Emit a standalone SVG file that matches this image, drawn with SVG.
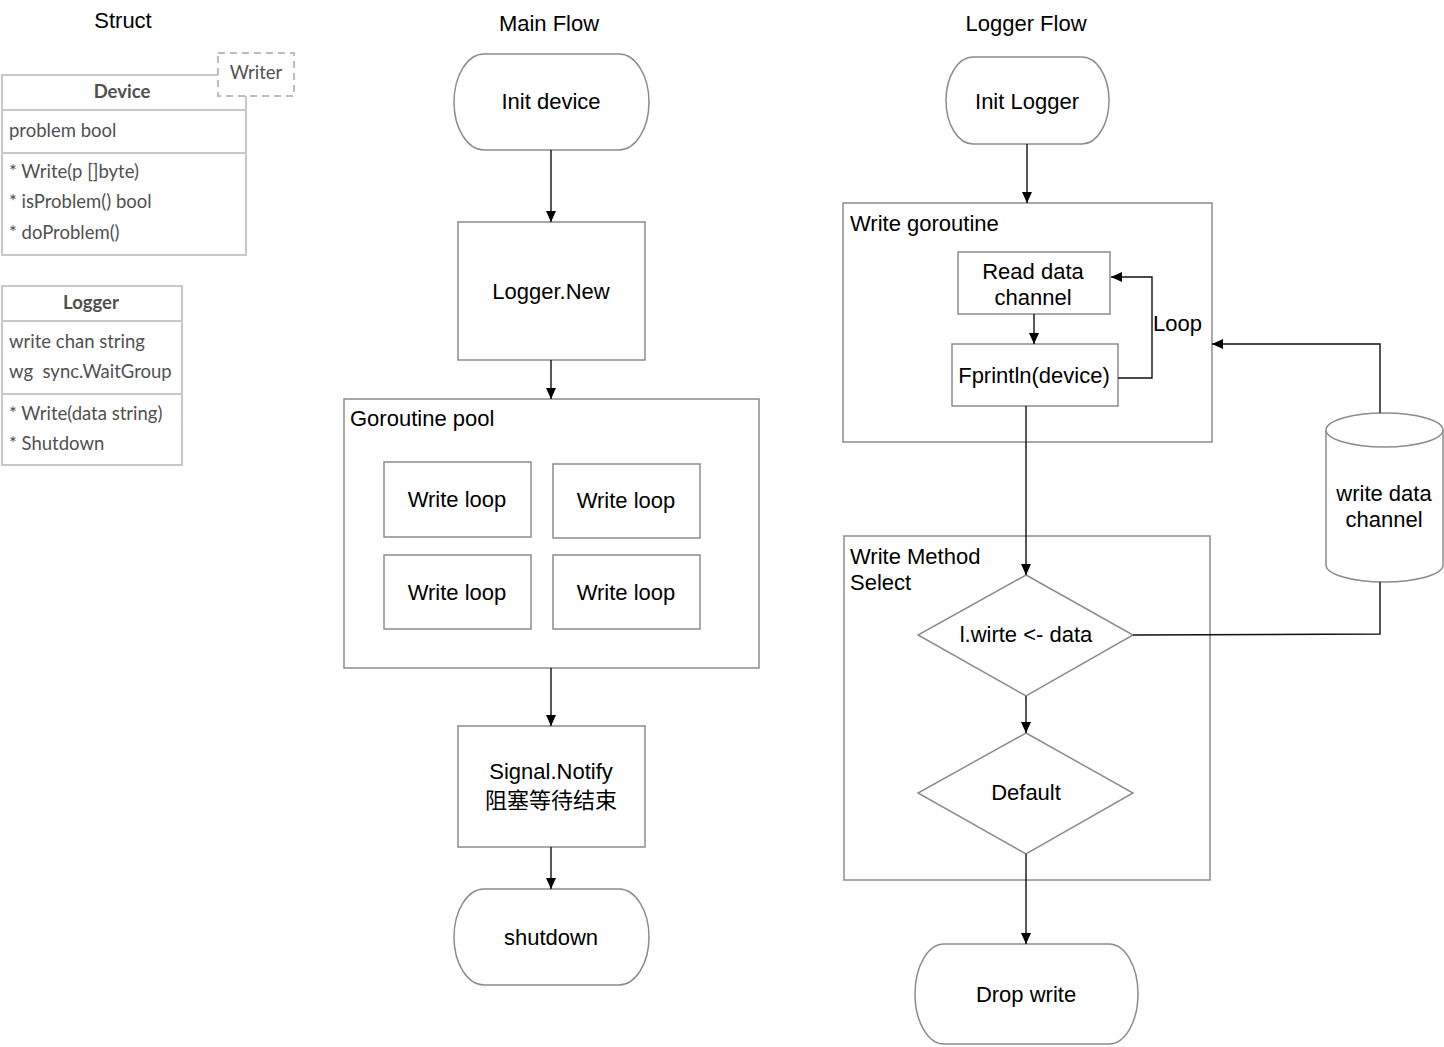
<svg xmlns="http://www.w3.org/2000/svg" width="1444" height="1047" viewBox="0 0 1444 1047">
  <defs>
    <marker id="arrow" markerWidth="12" markerHeight="12" refX="11" refY="5" orient="auto" markerUnits="userSpaceOnUse">
      <path d="M0,0 L11,5 L0,10 z" fill="#000"/>
    </marker>
    <style>
      .shape { fill: #fff; stroke: #8c8c8c; stroke-width: 1.5; }
      .uml { fill: #fff; stroke: #c8c8c8; stroke-width: 2; }
      .dash { fill: #fff; stroke: #bdbdbd; stroke-width: 2; stroke-dasharray: 7 5; }
      .wire { fill: none; stroke: #111; stroke-width: 1.4; }
      .txt { font-family: "Liberation Sans", Arial, "Noto Sans CJK SC", sans-serif; font-size: 22px; fill: #000; }
      .c { text-anchor: middle; }
      .utxt { font-family: Lato, "Noto Sans", sans-serif; font-size: 18.5px; fill: #505050; }
      .ub { font-weight: bold; }
    </style>
  </defs>

  <rect width="1444" height="1047" fill="#fff"/>

  <!-- column titles -->
  <g id="titles">
    <text class="txt c" x="123" y="28">Struct</text>
    <text class="txt c" x="549" y="31">Main Flow</text>
    <text class="txt c" x="1026" y="31">Logger Flow</text>
  </g>

  <!-- Struct: Device class -->
  <g id="device-class">
    <rect class="uml" x="2" y="75" width="244" height="180"/>
    <line class="uml" x1="2" y1="110" x2="246" y2="110"/>
    <line class="uml" x1="2" y1="153" x2="246" y2="153"/>
    <text class="utxt ub c" x="122" y="98">Device</text>
    <text class="utxt" x="9" y="137">problem bool</text>
    <text class="utxt" x="9" y="178">* Write(p []byte)</text>
    <text class="utxt" x="9" y="208">* isProblem() bool</text>
    <text class="utxt" x="9" y="239">* doProblem()</text>
  </g>
  <g id="writer-interface">
    <rect class="dash" x="218" y="53" width="76" height="43"/>
    <text class="utxt c" x="256" y="79">Writer</text>
  </g>

  <!-- Struct: Logger class -->
  <g id="logger-class">
    <rect class="uml" x="2" y="286" width="180" height="179"/>
    <line class="uml" x1="2" y1="321" x2="182" y2="321"/>
    <line class="uml" x1="2" y1="394" x2="182" y2="394"/>
    <text class="utxt ub c" x="91" y="309">Logger</text>
    <text class="utxt" x="9" y="348">write chan string</text>
    <text class="utxt" x="9" y="378" xml:space="preserve">wg  sync.WaitGroup</text>
    <text class="utxt" x="9" y="420">* Write(data string)</text>
    <text class="utxt" x="9" y="450">* Shutdown</text>
  </g>

  <!-- Main flow -->
  <g id="init-device">
    <rect class="shape" x="454" y="54" width="195" height="96" rx="30" ry="48"/>
    <text class="txt c" x="551" y="109">Init device</text>
  </g>
  <g id="logger-new">
    <rect class="shape" x="458" y="222" width="187" height="138"/>
    <text class="txt c" x="551" y="299">Logger.New</text>
  </g>
  <g id="goroutine-pool">
    <rect class="shape" x="344" y="399" width="415" height="269"/>
    <text class="txt" x="350" y="426">Goroutine pool</text>
  </g>
  <g id="write-loop-1">
    <rect class="shape" x="384" y="462" width="147" height="75"/>
    <text class="txt c" x="457" y="507">Write loop</text>
  </g>
  <g id="write-loop-2">
    <rect class="shape" x="553" y="464" width="147" height="74"/>
    <text class="txt c" x="626" y="508">Write loop</text>
  </g>
  <g id="write-loop-3">
    <rect class="shape" x="384" y="555" width="147" height="74"/>
    <text class="txt c" x="457" y="600">Write loop</text>
  </g>
  <g id="write-loop-4">
    <rect class="shape" x="553" y="555" width="147" height="74"/>
    <text class="txt c" x="626" y="600">Write loop</text>
  </g>
  <g id="signal-notify">
    <rect class="shape" x="458" y="726" width="187" height="121"/>
    <text class="txt c" x="551" y="779">Signal.Notify</text>
    <text class="txt c" x="551" y="808">阻塞等待结束</text>
  </g>
  <g id="shutdown">
    <rect class="shape" x="454" y="889" width="195" height="96" rx="30" ry="48"/>
    <text class="txt c" x="551" y="945">shutdown</text>
  </g>

  <!-- Logger flow -->
  <g id="init-logger">
    <rect class="shape" x="946" y="57" width="163" height="87" rx="27" ry="43.5"/>
    <text class="txt c" x="1027" y="109">Init Logger</text>
  </g>
  <g id="write-goroutine">
    <rect class="shape" x="843" y="203" width="369" height="239"/>
    <text class="txt" x="850" y="231">Write goroutine</text>
  </g>
  <g id="read-data-channel">
    <rect class="shape" x="958" y="252" width="152" height="62"/>
    <text class="txt c" x="1033" y="279">Read data</text>
    <text class="txt c" x="1033" y="305">channel</text>
  </g>
  <g id="fprintln">
    <rect class="shape" x="952" y="344" width="166" height="62"/>
    <text class="txt c" x="1034" y="383">Fprintln(device)</text>
  </g>
  <g id="write-method-select">
    <rect class="shape" x="844" y="536" width="366" height="344"/>
    <text class="txt" x="850" y="564">Write Method</text>
    <text class="txt" x="850" y="590">Select</text>
  </g>
  <g id="write-case">
    <polygon class="shape" points="1026,575 1133,635 1026,696 918,635"/>
    <text class="txt c" x="1026" y="642">l.wirte &lt;- data</text>
  </g>
  <g id="default-case">
    <polygon class="shape" points="1026,733 1133,793 1026,854 918,793"/>
    <text class="txt c" x="1026" y="800">Default</text>
  </g>
  <g id="drop-write">
    <rect class="shape" x="915" y="944" width="223" height="100" rx="29" ry="50"/>
    <text class="txt c" x="1026" y="1002">Drop write</text>
  </g>
  <g id="write-data-channel">
    <path class="shape" d="M1326,430 A58.5,17 0 0 1 1443,430 L1443,565 A58.5,17 0 0 1 1326,565 Z"/>
    <path class="shape" fill="none" d="M1326,430 A58.5,17 0 0 0 1443,430"/>
    <text class="txt c" x="1384" y="501">write data</text>
    <text class="txt c" x="1384" y="527">channel</text>
  </g>

  <!-- connectors -->
  <g id="connectors">
    <line class="wire" x1="551" y1="150" x2="551" y2="222" marker-end="url(#arrow)"/>
    <line class="wire" x1="551" y1="360" x2="551" y2="399" marker-end="url(#arrow)"/>
    <line class="wire" x1="551" y1="668" x2="551" y2="726" marker-end="url(#arrow)"/>
    <line class="wire" x1="551" y1="847" x2="551" y2="889" marker-end="url(#arrow)"/>
    <line class="wire" x1="1027" y1="144" x2="1027" y2="203" marker-end="url(#arrow)"/>
    <line class="wire" x1="1034" y1="314" x2="1034" y2="344" marker-end="url(#arrow)"/>
    <polyline class="wire" points="1118,378 1152,378 1152,277 1111,277" marker-end="url(#arrow)"/>
    <line class="wire" x1="1026" y1="406" x2="1026" y2="575" marker-end="url(#arrow)"/>
    <line class="wire" x1="1026" y1="696" x2="1026" y2="733" marker-end="url(#arrow)"/>
    <line class="wire" x1="1026" y1="854" x2="1026" y2="944" marker-end="url(#arrow)"/>
    <polyline class="wire" points="1133,635 1380,634 1380,582"/>
    <polyline class="wire" points="1380,413 1380,344 1212,344" marker-end="url(#arrow)"/>
    <text class="txt" x="1153" y="331">Loop</text>
  </g>
</svg>
